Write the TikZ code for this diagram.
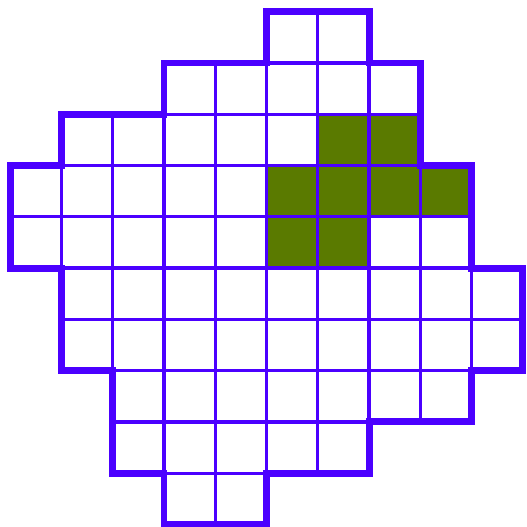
\documentclass[tikz,border=0pt]{standalone}
\usepackage{tikz}
\definecolor{gridblue}{RGB}{75, 0, 255}
\definecolor{leafgreen}{RGB}{90, 122, 0}

\begin{document}
\begin{tikzpicture}[
    cell/.style={draw=gridblue, line width=1.8pt},
    marked/.style={fill=leafgreen, draw=gray!80, line width=0.4pt},
    rim/.style={draw=gridblue, line width=3.8pt, line join=miter}
]
    \useasboundingbox (-0.2,-0.05) rectangle (10.08,10.23);
    % green cells
    \foreach \r/\c in {2/6, 2/7, 3/5, 3/6, 3/7, 3/8, 4/5, 4/6}
        \fill[marked] (\c,{9-\r}) rectangle ++(1,1);
    % rows: row / first column / last column
    \foreach \r/\a/\b in {0/5/6, 1/3/7, 2/1/7, 3/0/8, 4/0/8,
                          5/1/9, 6/1/9, 7/2/8, 8/2/6, 9/3/4}
        \foreach \c in {\a,...,\b}
            \draw[cell] (\c,{9-\r}) rectangle ++(1,1);
    % outer rim
    \draw[rim] (5,10) -- (7,10) -- (7,9) -- (8,9) -- (8,7) -- (9,7) -- (9,5)
        -- (10,5) -- (10,3) -- (9,3) -- (9,2) -- (7,2) -- (7,1) -- (5,1)
        -- (5,0) -- (3,0) -- (3,1) -- (2,1) -- (2,3) -- (1,3) -- (1,5)
        -- (0,5) -- (0,7) -- (1,7) -- (1,8) -- (3,8) -- (3,9) -- (5,9) -- cycle;
\end{tikzpicture}
\end{document}
